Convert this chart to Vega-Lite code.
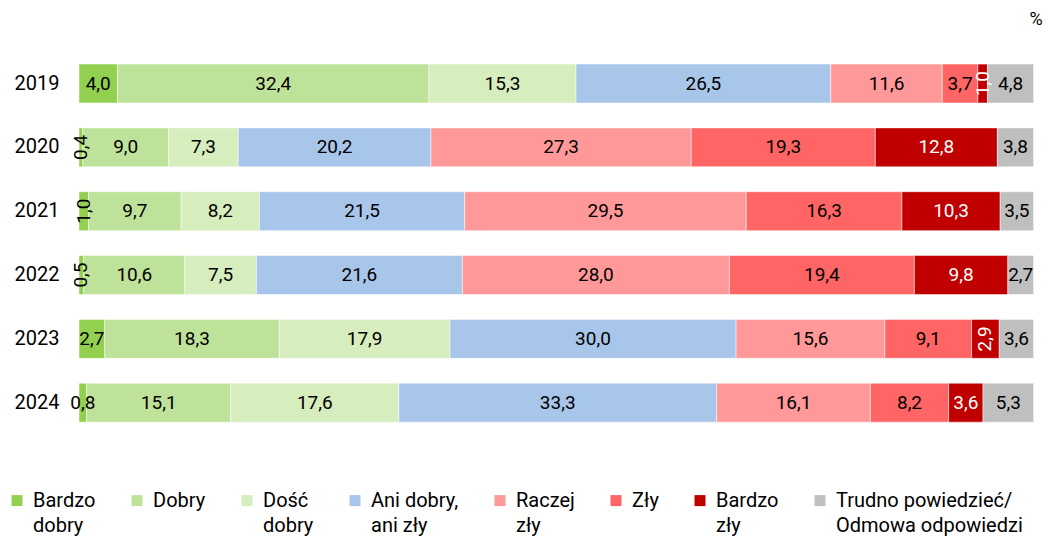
{
  "$schema": "https://vega.github.io/schema/vega-lite/v6.json",
  "autosize": {"type": "none"},
  "width": 954.6,
  "height": 383,
  "padding": {"left": 79, "top": 51.6, "right": 14.4, "bottom": 103.4},
  "background": "white",
  "title": {"text": "%", "anchor": "end", "frame": "group", "fontSize": 18, "fontWeight": "normal", "font": "Roboto", "color": "#000", "offset": 23, "dx": 9},
  "config": {"view": {"stroke": null}, "font": "Roboto", "style": {"guide-label": {"lineHeight": 25}}},
  "data": {"values": [
    {"year": "2019", "cat": "Bardzo dobry", "value": 4.0},
    {"year": "2019", "cat": "Dobry", "value": 32.4},
    {"year": "2019", "cat": "Dość dobry", "value": 15.3},
    {"year": "2019", "cat": "Ani dobry, ani zły", "value": 26.5},
    {"year": "2019", "cat": "Raczej zły", "value": 11.6},
    {"year": "2019", "cat": "Zły", "value": 3.7},
    {"year": "2019", "cat": "Bardzo zły", "value": 1.0},
    {"year": "2019", "cat": "Trudno powiedzieć/ Odmowa odpowiedzi", "value": 4.8},
    {"year": "2020", "cat": "Bardzo dobry", "value": 0.4},
    {"year": "2020", "cat": "Dobry", "value": 9.0},
    {"year": "2020", "cat": "Dość dobry", "value": 7.3},
    {"year": "2020", "cat": "Ani dobry, ani zły", "value": 20.2},
    {"year": "2020", "cat": "Raczej zły", "value": 27.3},
    {"year": "2020", "cat": "Zły", "value": 19.3},
    {"year": "2020", "cat": "Bardzo zły", "value": 12.8},
    {"year": "2020", "cat": "Trudno powiedzieć/ Odmowa odpowiedzi", "value": 3.8},
    {"year": "2021", "cat": "Bardzo dobry", "value": 1.0},
    {"year": "2021", "cat": "Dobry", "value": 9.7},
    {"year": "2021", "cat": "Dość dobry", "value": 8.2},
    {"year": "2021", "cat": "Ani dobry, ani zły", "value": 21.5},
    {"year": "2021", "cat": "Raczej zły", "value": 29.5},
    {"year": "2021", "cat": "Zły", "value": 16.3},
    {"year": "2021", "cat": "Bardzo zły", "value": 10.3},
    {"year": "2021", "cat": "Trudno powiedzieć/ Odmowa odpowiedzi", "value": 3.5},
    {"year": "2022", "cat": "Bardzo dobry", "value": 0.5},
    {"year": "2022", "cat": "Dobry", "value": 10.6},
    {"year": "2022", "cat": "Dość dobry", "value": 7.5},
    {"year": "2022", "cat": "Ani dobry, ani zły", "value": 21.6},
    {"year": "2022", "cat": "Raczej zły", "value": 28.0},
    {"year": "2022", "cat": "Zły", "value": 19.4},
    {"year": "2022", "cat": "Bardzo zły", "value": 9.8},
    {"year": "2022", "cat": "Trudno powiedzieć/ Odmowa odpowiedzi", "value": 2.7},
    {"year": "2023", "cat": "Bardzo dobry", "value": 2.7},
    {"year": "2023", "cat": "Dobry", "value": 18.3},
    {"year": "2023", "cat": "Dość dobry", "value": 17.9},
    {"year": "2023", "cat": "Ani dobry, ani zły", "value": 30.0},
    {"year": "2023", "cat": "Raczej zły", "value": 15.6},
    {"year": "2023", "cat": "Zły", "value": 9.1},
    {"year": "2023", "cat": "Bardzo zły", "value": 2.9},
    {"year": "2023", "cat": "Trudno powiedzieć/ Odmowa odpowiedzi", "value": 3.6},
    {"year": "2024", "cat": "Bardzo dobry", "value": 0.8},
    {"year": "2024", "cat": "Dobry", "value": 15.1},
    {"year": "2024", "cat": "Dość dobry", "value": 17.6},
    {"year": "2024", "cat": "Ani dobry, ani zły", "value": 33.3},
    {"year": "2024", "cat": "Raczej zły", "value": 16.1},
    {"year": "2024", "cat": "Zły", "value": 8.2},
    {"year": "2024", "cat": "Bardzo zły", "value": 3.6},
    {"year": "2024", "cat": "Trudno powiedzieć/ Odmowa odpowiedzi", "value": 5.3}
  ]},
  "transform": [
    {"calculate": "indexof(['Bardzo dobry','Dobry','Dość dobry','Ani dobry, ani zły','Raczej zły','Zły','Bardzo zły','Trudno powiedzieć/ Odmowa odpowiedzi'], datum.cat)", "as": "o"},
    {"stack": "value", "groupby": ["year"], "sort": [{"field": "o", "order": "ascending"}], "offset": "normalize", "as": ["x0", "x1"]},
    {"calculate": "(datum.x0 + datum.x1) / 2", "as": "xm"},
    {"calculate": "replace(format(datum.value, '.1f'), '.', ',')", "as": "lab"}
  ],
  "encoding": {
    "y": {"field": "year", "type": "nominal", "sort": ["2019","2020","2021","2022","2023","2024"],
      "scale": {"paddingInner": 0.39, "paddingOuter": 0.195},
      "axis": {"title": null, "ticks": false, "domain": false, "labelFontSize": 20, "labelPadding": 20, "labelColor": "#000", "labelFont": "Roboto"}}
  },
  "layer": [
    {
      "mark": {"type": "bar", "stroke": "white", "strokeWidth": 0.5},
      "encoding": {
        "x": {"field": "x0", "type": "quantitative", "scale": {"domain": [0, 1], "nice": false}, "axis": null},
        "x2": {"field": "x1"},
        "color": {"field": "cat", "type": "nominal",
          "scale": {"domain": ["Bardzo dobry","Dobry","Dość dobry","Ani dobry, ani zły","Raczej zły","Zły","Bardzo zły","Trudno powiedzieć/ Odmowa odpowiedzi"],
                    "range": ["#92D050","#BFE29A","#D6EDBD","#A8C6E9","#FF9999","#FF6565","#C00000","#BFBFBF"]},
          "legend": {
            "title": null, "orient": "none", "legendX": -72, "legendY": 439, "direction": "horizontal", "columns": 8,
            "padding": 0, "columnPadding": 31, "symbolType": "square", "symbolSize": 121, "symbolStrokeWidth": 0,
            "labelOffset": 6, "labelFontSize": 20, "labelFont": "Roboto", "labelColor": "#000", "labelLimit": 400,
            "labelBaseline": "middle",
            "labelExpr": "datum.label=='Bardzo dobry'?['Bardzo','dobry']:datum.label=='Dobry'?['Dobry','']:datum.label=='Zły'?['Zły','']:datum.label=='Dość dobry'?['Dość','dobry']:datum.label=='Ani dobry, ani zły'?['Ani dobry,','ani zły']:datum.label=='Raczej zły'?['Raczej','zły']:datum.label=='Bardzo zły'?['Bardzo','zły']:datum.label=='Trudno powiedzieć/ Odmowa odpowiedzi'?['Trudno powiedzieć/','Odmowa odpowiedzi']:datum.label",
            "encode": {"labels": {"update": {"lineHeight": {"value": 25}}}}
          }
        }
      }
    },
    {
      "mark": {"type": "text", "fontSize": 19, "font": "Roboto", "baseline": "middle", "align": "center"},
      "encoding": {
        "x": {"field": "xm", "type": "quantitative"},
        "text": {"field": "lab"},
        "color": {"condition": {"test": "datum.cat=='Bardzo zły'", "value": "white"}, "value": "#000"},
        "angle": {"condition": {"test": "(datum.cat=='Bardzo dobry' && (datum.year=='2020'||datum.year=='2021'||datum.year=='2022')) || (datum.cat=='Bardzo zły' && (datum.year=='2019'||datum.year=='2023'))", "value": 270}, "value": 0}
      }
    }
  ]
}
